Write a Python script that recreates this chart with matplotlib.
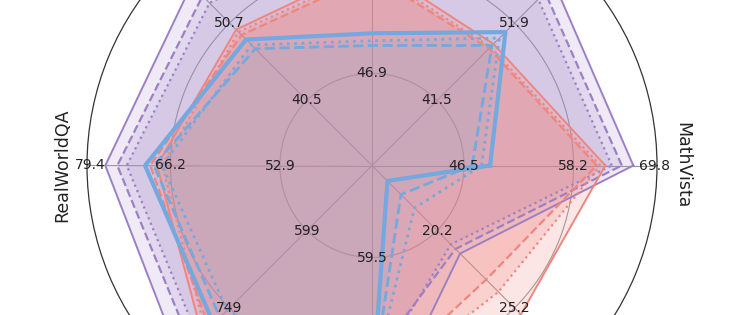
import numpy as np
import matplotlib
matplotlib.use("Agg")
import matplotlib.pyplot as plt

categories = ["MathVista", "MMMU", "MMStar", "HallusionBench", "RealWorldQA",
              "OCRBench", "AI2D", "MathVerse"]
axis_max = [69.8, 62.3, 70.35, 60.8, 79.4, 898.5, 89.25, 30.3]

purple_solid = [66.5, 58.9, 68.2, 57.2, 76.5, 875, 86.6, 21.7]
purple_dash  = [64.9, 57.3, 66.1, 55.3, 74.6, 845, 73.6, 21.4]
purple_dot   = [63.5, 56.1, 64.7, 54.1, 73.1, 827, 75.9, 21.1]
red_solid    = [62.6, 49.1, 58.5, 49.8, 68.3, 818, 79.5, 25.8]
red_dash     = [61.4, 48.5, 57.4, 49.1, 69.4, 800, 77.7, 23.4]
red_dot      = [61.9, 48.7, 57.9, 49.5, 67.5, 809, 78.6, 24.2]
blue_solid   = [49.3, 50.7, 51.2, 48.5, 70.2, 789, 79.5, 4.8]
blue_dash    = [47.4, 48.9, 49.9, 47.3, 68.8, 773, 77.7, 9.0]
blue_dot     = [48.4, 49.9, 50.4, 47.8, 67.5, 755, 76.8, 13.2]

PURPLE = "#9c80c6"
RED = "#f0857e"
BLUE = "#74a9df"

series = [
    (purple_solid, PURPLE, "-", 1.4, 0.16),
    (purple_dash, PURPLE, "--", 1.6, 0.16),
    (purple_dot, PURPLE, ":", 1.6, 0.16),
    (red_solid, RED, "-", 1.4, 0.2),
    (red_dash, RED, "--", 1.6, 0.2),
    (red_dot, RED, ":", 1.6, 0.2),
    (blue_solid, BLUE, "-", 3.0, 0.07),
    (blue_dash, BLUE, "--", 2.0, 0.07),
    (blue_dot, BLUE, ":", 2.0, 0.07),
]

frac_pts = [0, 2 / 3, 5 / 6, 1.0]
rad_pts = [0, 0.323, 0.707, 1.0]


def to_r(vals):
    f = np.array(vals, dtype=float) / np.array(axis_max)
    return np.interp(f, frac_pts, rad_pts)


n = len(categories)
theta = np.linspace(0, 2 * np.pi, n, endpoint=False)
theta_c = np.append(theta, theta[0])

W, H = 741, 315
fig = plt.figure(figsize=(W / 100, H / 100), dpi=100)
cx, cy, R = 372, H - 165.5, 285
ax = fig.add_axes([(cx - R) / W, (cy - R) / H, 2 * R / W, 2 * R / H], projection="polar")
ax.set_ylim(0, 1)
ax.set_xticks(theta)
ax.set_xticklabels([])
ax.set_yticks([0.323, 0.707])
ax.set_yticklabels([])
ax.grid(True, color="#9a9a9a", lw=0.8)
ax.spines["polar"].set_color("#333333")
ax.spines["polar"].set_linewidth(0.9)

for vals, col, ls, lw, al in series:
    r = to_r(vals)
    r = np.append(r, r[0])
    ax.fill(theta_c, r, color=col, alpha=al, zorder=2, lw=0)
    ax.plot(theta_c, r, color=col, ls=ls, lw=lw, zorder=3)

# tick value labels along each axis
for i in range(n):
    for frac, rad in zip([2 / 3, 5 / 6, 1.0], [0.323, 0.707, 0.99]):
        v = axis_max[i] * frac
        s = f"{v:.0f}" if axis_max[i] > 200 else f"{v:.1f}"
        ax.text(theta[i], rad, s, ha="center", va="center", fontsize=10,
                color="#222222", zorder=5)

# category labels
for i, name in enumerate(categories):
    rot = np.degrees(theta[i]) - 90
    ax.text(theta[i], 1.088, name, ha="center", va="center", fontsize=12.5,
            rotation=rot, rotation_mode="anchor", color="#222222")

fig.savefig("out.png", dpi=100)
